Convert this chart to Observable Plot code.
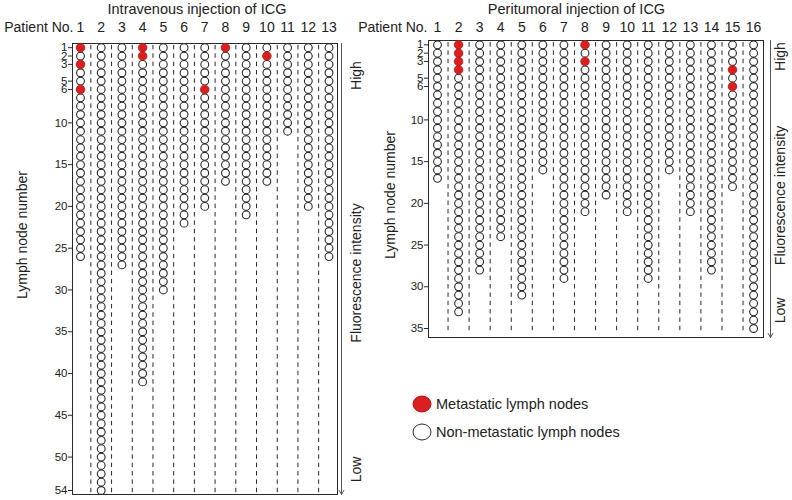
<!DOCTYPE html>
<html>
<head>
<meta charset="utf-8">
<script src="https://cdn.jsdelivr.net/npm/d3@7"></script>
<script src="https://cdn.jsdelivr.net/npm/@observablehq/plot@0.6"></script>
<style>
  body { margin: 0; background: #fff; }
  #wrap { position: relative; width: 792px; height: 500px; overflow: hidden; }
  #wrap > svg { position: absolute; left: 0; top: 0; }
</style>
</head>
<body>
<div id="wrap"></div>
<script>
// ---------------- DATA ----------------
const ivTitle = "Intravenous injection of ICG";
const ivPatients = [1, 2, 3, 4, 5, 6, 7, 8, 9, 10, 11, 12, 13];
const ivNodeCounts = [26, 54, 27, 41, 30, 22, 20, 17, 21, 17, 11, 20, 26];
const ivMetastatic = [
  {patient: 1, node: 1}, {patient: 1, node: 3}, {patient: 1, node: 6},
  {patient: 4, node: 1}, {patient: 4, node: 2},
  {patient: 7, node: 6}, {patient: 8, node: 1}, {patient: 10, node: 2}
];
const ivYTicks = [1, 2, 3, 5, 6, 10, 15, 20, 25, 30, 35, 40, 45, 50, 54];

const ptTitle = "Peritumoral injection of ICG";
const ptPatients = [1, 2, 3, 4, 5, 6, 7, 8, 9, 10, 11, 12, 13, 14, 15, 16];
const ptNodeCounts = [17, 33, 28, 24, 31, 16, 29, 21, 19, 21, 29, 16, 21, 28, 18, 35];
const ptMetastatic = [
  {patient: 2, node: 1}, {patient: 2, node: 2}, {patient: 2, node: 3}, {patient: 2, node: 4},
  {patient: 8, node: 1}, {patient: 8, node: 3},
  {patient: 15, node: 4}, {patient: 15, node: 6}
];
const ptYTicks = [1, 2, 3, 5, 6, 10, 15, 20, 25, 30, 35];

const xAxisLabel = "Patient No.";
const yAxisLabel = "Lymph node number";
const intensityLabels = ["High", "Fluorescence intensity", "Low"];
const legendItems = ["Metastatic lymph nodes", "Non-metastatic lymph nodes"];

// ---------------- STYLE ----------------
const FONT = '"Liberation Sans", Arial, Helvetica, sans-serif';
const RED = "#d9201f";
const INK = "#2a2a2a";
const W = 792, H = 500;

function panel(cfg) {
  const {title, patients, counts, metastatic, yTicks, box, xDom, yDom, ann} = cfg;
  const metSet = new Set(metastatic.map(d => d.patient + ":" + d.node));
  const nodes = [];
  patients.forEach((p, i) => {
    for (let n = 1; n <= counts[i]; n++) nodes.push({patient: p, node: n, met: metSet.has(p + ":" + n)});
  });
  const maxRow = yTicks[yTicks.length - 1];
  const dashes = [];
  for (let k = 0; k < patients.length - 1; k++)
    for (let r = 1; r <= maxRow; r++) dashes.push({x: (patients[k] + patients[k + 1]) / 2, y: r});
  const pxPerX = (box.right - box.left) / (xDom[1] - xDom[0]);
  const tickLen = 4 / pxPerX;
  const numDy = -(box.top - 31.5);
  const titleDy = -(box.top - 13);
  const R = 3.9;
  const rot = {rotate: -90, textAnchor: "middle", lineAnchor: "middle", fontSize: 14, fill: "#222"};

  return Plot.plot({
    width: W, height: H,
    marginLeft: box.left, marginRight: W - box.right,
    marginTop: box.top, marginBottom: H - box.bottom,
    x: {type: "linear", domain: xDom, axis: null},
    y: {type: "linear", domain: yDom, reverse: true, axis: null},
    style: {background: "transparent", fontFamily: FONT, color: "#222", overflow: "visible"},
    marks: [
      Plot.ruleX(dashes, {x: "x", y1: d => d.y - 0.27, y2: d => d.y + 0.27, stroke: INK, strokeWidth: 1}),
      Plot.frame({stroke: INK, strokeWidth: 1}),
      Plot.ruleY(yTicks, {y: d => d, x1: () => xDom[0] - tickLen, x2: () => xDom[0], stroke: INK, strokeWidth: 1}),
      Plot.text(yTicks, {y: d => d, x: () => xDom[0], text: d => String(d), textAnchor: "end", lineAnchor: "middle", dx: -5, fontSize: 11.5, fill: "#222"}),
      Plot.text(patients, {x: d => d, text: d => String(d), frameAnchor: "top", textAnchor: "middle", lineAnchor: "bottom", dy: numDy, fontSize: 14, fill: "#222"}),
      Plot.text([xAxisLabel], {text: d => d, frameAnchor: "top-left", textAnchor: "end", lineAnchor: "bottom", dx: ann.pnDx, dy: numDy, fontSize: 14, fill: "#222"}),
      Plot.text([title], {text: d => d, frameAnchor: "top", textAnchor: "middle", lineAnchor: "bottom", dx: ann.titleDx, dy: titleDy, fontSize: 14.5, fill: "#222"}),
      Plot.text([yAxisLabel], {...rot, text: d => d, frameAnchor: "left", dx: ann.ylDx, dy: ann.ylDy}),
      Plot.text([intensityLabels[0]], {...rot, text: d => d, frameAnchor: "top-right", dx: ann.intDx, dy: ann.highDy}),
      Plot.text([intensityLabels[1]], {...rot, text: d => d, frameAnchor: "right", dx: ann.intDx, dy: ann.midDy}),
      Plot.text([intensityLabels[2]], {...rot, text: d => d, frameAnchor: "bottom-right", dx: ann.intDx, dy: ann.lowDy}),
      Plot.arrow([{x: xDom[1], y1: yDom[0], y2: yDom[1]}], {x1: "x", x2: "x", y1: "y1", y2: "y2", dx: ann.arrowDx, stroke: "#555", strokeWidth: 1, headLength: 7, headAngle: 60}),
      Plot.dot(nodes.filter(d => !d.met), {x: "patient", y: "node", r: R, fill: "white", stroke: INK, strokeWidth: 1.1}),
      Plot.dot(nodes.filter(d => d.met), {x: "patient", y: "node", r: R + 0.4, fill: RED, stroke: "#b3161a", strokeWidth: 0.8})
    ]
  });
}

const wrap = document.getElementById("wrap");

wrap.appendChild(panel({
  title: ivTitle, patients: ivPatients, counts: ivNodeCounts, metastatic: ivMetastatic, yTicks: ivYTicks,
  box: {left: 72, right: 337, top: 43, bottom: 494},
  xDom: [0.614, 13.41], yDom: [0.5, 54.48],
  ann: {pnDx: 1, titleDx: -8, ylDx: -50, ylDy: -34, intDx: 19, highDy: 32, midDy: 4, lowDy: -25, arrowDx: 4}
}));

wrap.appendChild(panel({
  title: ptTitle, patients: ptPatients, counts: ptNodeCounts, metastatic: ptMetastatic, yTicks: ptYTicks,
  box: {left: 428, right: 763, top: 40, bottom: 337},
  xDom: [0.573, 16.47], yDom: [0.485, 36.08],
  ann: {pnDx: -1, titleDx: -19.5, ylDx: -38, ylDy: 6, intDx: 17, highDy: 16, midDy: 6.5, lowDy: -27, arrowDx: 7}
}));

// ---------------- LEGEND ----------------
const leg = d3.select(wrap).append("svg").attr("width", W).attr("height", H)
  .style("font-family", FONT);
const legG = leg.selectAll("g").data(legendItems).join("g")
  .attr("transform", (d, i) => `translate(422, ${404 + i * 28})`);
legG.append("ellipse").attr("rx", 9).attr("ry", 8)
  .attr("fill", (d, i) => i === 0 ? RED : "white")
  .attr("stroke", (d, i) => i === 0 ? "#b3161a" : INK).attr("stroke-width", 1);
legG.append("text").attr("x", 14).attr("y", 5).attr("font-size", 14.5).attr("fill", "#222").text(d => d);
</script>
</body>
</html>
